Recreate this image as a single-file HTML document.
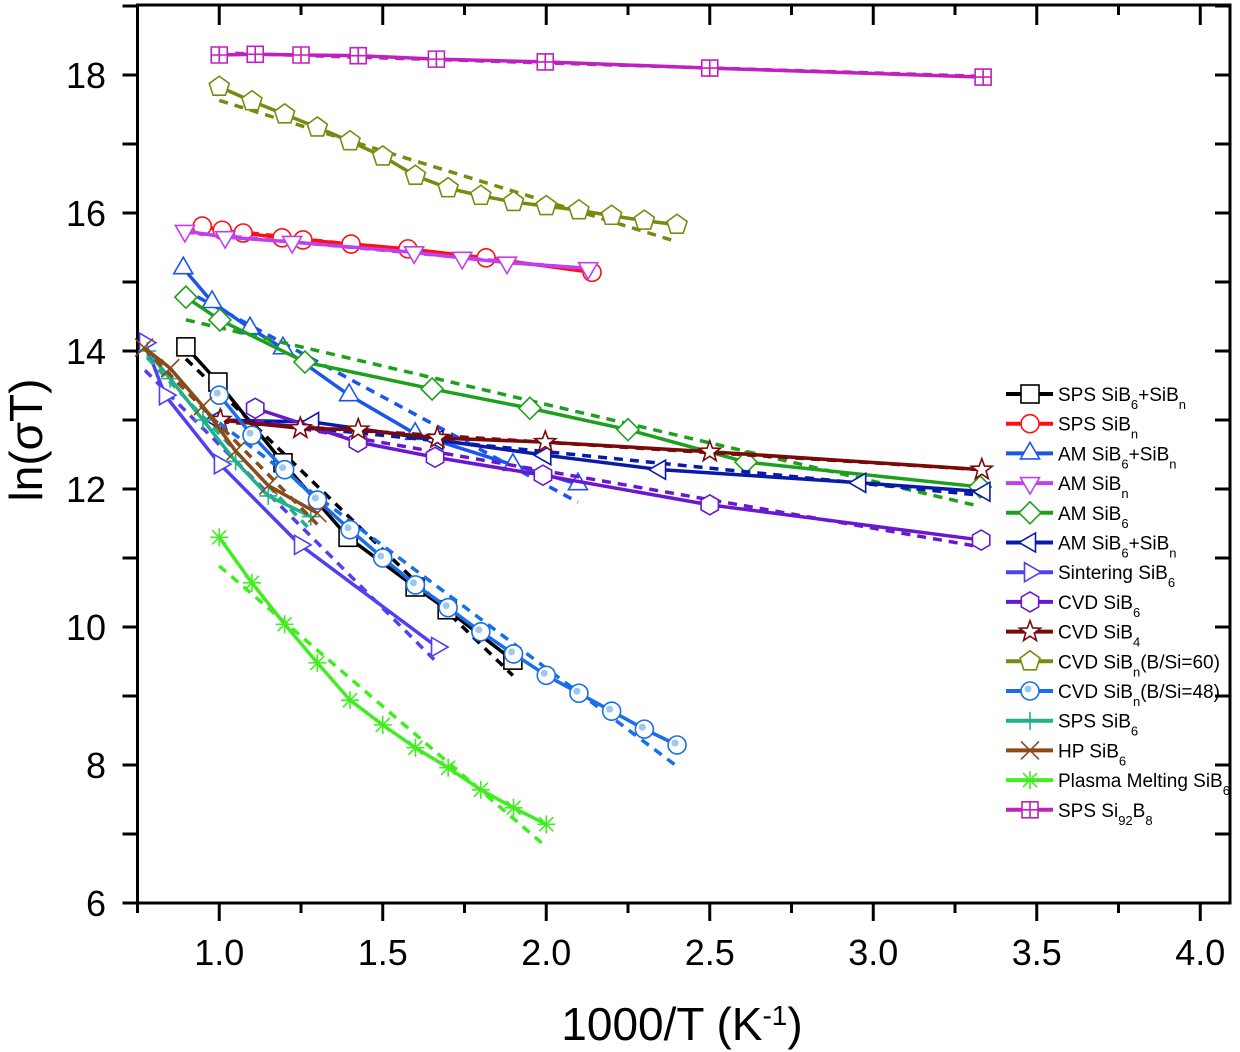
<!DOCTYPE html>
<html><head><meta charset="utf-8"><style>
body{margin:0;background:#fff;}
svg{display:block;font-family:"Liberation Sans",Arial,sans-serif;}
</style></head><body>
<svg id="chart" width="1240" height="1052" viewBox="0 0 1240 1052" xmlns="http://www.w3.org/2000/svg"></svg>
<script>
const xTicks=[1.0,1.5,2.0,2.5,3.0,3.5,4.0];
const yTicks=[6,8,10,12,14,16,18];
const seriesNames=["SPS SiB6+SiBn","SPS SiBn","AM SiB6+SiBn","AM SiBn","AM SiB6","AM SiB6+SiBn (2)","Sintering SiB6","CVD SiB6","CVD SiB4","CVD SiBn(B/Si=60)","CVD SiBn(B/Si=48)","SPS SiB6","HP SiB6","Plasma Melting SiB6","SPS Si92B8"];
const x0=[0.898,0.996,1.195,1.394,1.599,1.697,1.898];
const y0=[14.06,13.55,12.38,11.30,10.58,10.25,9.52];
const x1=[0.948,1.009,1.073,1.192,1.256,1.403,1.577,1.816,2.14];
const y1=[15.81,15.75,15.71,15.64,15.61,15.55,15.48,15.35,15.14];
const x2=[0.89,0.978,1.094,1.195,1.397,1.599,1.898,2.097];
const y2=[15.2,14.71,14.33,14.04,13.36,12.8,12.35,12.07];
const x3=[0.895,1.018,1.223,1.596,1.743,1.88,2.128];
const y3=[15.74,15.65,15.58,15.43,15.35,15.28,15.2];
const x4=[0.898,1.002,1.262,1.651,1.95,2.25,2.611,3.327];
const y4=[14.78,14.45,13.84,13.45,13.17,12.86,12.39,12.03];
const x5=[0.99,1.287,1.667,1.997,2.348,2.96,3.34];
const y5=[13.0,12.97,12.71,12.49,12.28,12.09,11.96];
const x6=[0.773,0.834,1.002,1.247,1.666];
const y6=[14.12,13.36,12.36,11.19,9.71];
const x7=[1.11,1.424,1.66,1.99,2.5,3.33];
const y7=[13.17,12.68,12.46,12.2,11.77,11.26];
const x8=[1.003,1.248,1.425,1.667,1.997,2.5,3.332];
const y8=[13.0,12.88,12.86,12.74,12.68,12.54,12.28];
const x9=[1.0,1.1,1.2,1.3,1.4,1.5,1.6,1.7,1.8,1.9,2.0,2.1,2.2,2.3,2.4];
const y9=[17.83,17.62,17.43,17.24,17.04,16.82,16.54,16.36,16.25,16.16,16.1,16.04,15.96,15.89,15.83];
const x10=[1.0,1.1,1.2,1.3,1.4,1.5,1.6,1.7,1.8,1.9,2.0,2.1,2.2,2.3,2.4];
const y10=[13.36,12.78,12.28,11.84,11.41,11.0,10.61,10.28,9.93,9.61,9.30,9.04,8.78,8.52,8.29];
const x11=[0.78,0.85,0.95,1.05,1.15,1.28];
const y11=[14.0,13.6,13.0,12.4,11.9,11.6];
const x12=[0.77,0.85,0.95,1.05,1.15,1.3];
const y12=[14.05,13.75,13.2,12.55,12.05,11.65];
const x13=[1.0,1.1,1.2,1.3,1.4,1.5,1.6,1.7,1.8,1.9,2.0];
const y13=[11.3,10.64,10.04,9.48,8.94,8.58,8.25,7.96,7.64,7.38,7.14];
const x14=[1.0,1.11,1.25,1.425,1.664,1.997,2.5,3.336];
const y14=[18.29,18.3,18.29,18.28,18.23,18.19,18.1,17.97];

const XS=[x0,x1,x2,x3,x4,x5,x6,x7,x8,x9,x10,x11,x12,x13,x14];
const YS=[y0,y1,y2,y3,y4,y5,y6,y7,y8,y9,y10,y11,y12,y13,y14];
const colors=["#000000","#ff1010","#1a55ee","#c040f0","#1ea01e","#0a1aa8","#5040f0","#6a18d0","#7a0a0a","#7a8a10","#1a6ee8","#20b08a","#8b4a1a","#40ee20","#c020c0"];
const markers=["square","circle","up","down","diamond","left","right","hex","star","pent","bubble","plus","x","ast","grid"];
const legendHTML=['SPS SiB<tspan baseline-shift="sub" font-size="13">6</tspan>+SiB<tspan baseline-shift="sub" font-size="13">n</tspan>','SPS SiB<tspan baseline-shift="sub" font-size="13">n</tspan>','AM SiB<tspan baseline-shift="sub" font-size="13">6</tspan>+SiB<tspan baseline-shift="sub" font-size="13">n</tspan>','AM SiB<tspan baseline-shift="sub" font-size="13">n</tspan>','AM SiB<tspan baseline-shift="sub" font-size="13">6</tspan>','AM SiB<tspan baseline-shift="sub" font-size="13">6</tspan>+SiB<tspan baseline-shift="sub" font-size="13">n</tspan>','Sintering SiB<tspan baseline-shift="sub" font-size="13">6</tspan>','CVD SiB<tspan baseline-shift="sub" font-size="13">6</tspan>','CVD SiB<tspan baseline-shift="sub" font-size="13">4</tspan>',' CVD SiB<tspan baseline-shift="sub" font-size="13">n</tspan>(B/Si=60)','CVD SiB<tspan baseline-shift="sub" font-size="13">n</tspan>(B/Si=48)','SPS SiB<tspan baseline-shift="sub" font-size="13">6</tspan>','HP SiB<tspan baseline-shift="sub" font-size="13">6</tspan>','Plasma Melting SiB<tspan baseline-shift="sub" font-size="13">6</tspan>','SPS Si<tspan baseline-shift="sub" font-size="13">92</tspan>B<tspan baseline-shift="sub" font-size="13">8</tspan>'];

const L=137.5,R=1230,T=5,B=903;
const sx=v=>L+(v-0.75)*327;
const sy=v=>75+(18-v)*69;
const svg=document.getElementById('chart');
const NS="http://www.w3.org/2000/svg";
function mk(tag,attrs,parent){const e=document.createElementNS(NS,tag);for(const k in attrs)e.setAttribute(k,attrs[k]);(parent||svg).appendChild(e);return e;}

function marker(type,x,y,c,g){
  const s=9;let e;
  const poly=(pts)=>mk('polygon',{points:pts.map(p=>p.join(',')).join(' '),fill:'#fff',stroke:c,'stroke-width':1.6},g);
  const reg=(n,r,rot)=>{const p=[];for(let i=0;i<n;i++){const a=rot+i*2*Math.PI/n;p.push([x+r*Math.cos(a),y+r*Math.sin(a)]);}return p;};
  switch(type){
    case 'square':e=mk('rect',{x:x-s,y:y-s,width:2*s,height:2*s,fill:'#fff',stroke:c,'stroke-width':1.6},g);break;
    case 'circle':e=mk('circle',{cx:x,cy:y,r:s,fill:'#fff',stroke:c,'stroke-width':1.6},g);break;
    case 'up':e=poly(reg(3,11,-Math.PI/2));break;
    case 'down':e=poly(reg(3,11,Math.PI/2));break;
    case 'left':e=poly(reg(3,11,Math.PI));break;
    case 'right':e=poly(reg(3,11,0));break;
    case 'diamond':e=poly(reg(4,11,0));break;
    case 'hex':e=poly(reg(6,10,-Math.PI/2));break;
    case 'pent':e=poly(reg(5,10.5,-Math.PI/2));break;
    case 'star':{const p=[];for(let i=0;i<10;i++){const r=i%2?4.5:11;const a=-Math.PI/2+i*Math.PI/5;p.push([x+r*Math.cos(a),y+r*Math.sin(a)]);}e=poly(p);break;}
    case 'bubble':e=mk('circle',{cx:x,cy:y,r:s,fill:'#fff',stroke:c,'stroke-width':1.6},g);mk('circle',{cx:x-2,cy:y-2,r:3.5,fill:'#9cc8f0'},g);break;
    case 'plus':e=mk('path',{d:`M${x-s} ${y}H${x+s}M${x} ${y-s}V${y+s}`,stroke:c,'stroke-width':1.6},g);break;
    case 'x':e=mk('path',{d:`M${x-s} ${y-s}L${x+s} ${y+s}M${x+s} ${y-s}L${x-s} ${y+s}`,stroke:c,'stroke-width':1.6},g);break;
    case 'ast':e=mk('path',{d:`M${x-s} ${y}H${x+s}M${x} ${y-s}V${y+s}M${x-7} ${y-7}L${x+7} ${y+7}M${x+7} ${y-7}L${x-7} ${y+7}`,stroke:c,'stroke-width':1.6},g);break;
    case 'grid':{const q=8;e=mk('path',{d:`M${x-q} ${y-q}h${2*q}v${2*q}h${-2*q}zM${x} ${y-q}V${y+q}M${x-q} ${y}H${x+q}`,fill:'#fff',stroke:c,'stroke-width':1.6},g);break;}
  }
  return e;
}

const frame=mk('rect',{x:L,y:T,width:R-L,height:B-T,fill:'none',stroke:'#000','stroke-width':3});



for(let v=0.75;v<=4.01;v+=0.25){
  const major=xTicks.some(t=>Math.abs(t-v)<1e-6);
  const t=mk('line',{x1:sx(v),x2:sx(v),y1:B,y2:B+(major?18:10),stroke:'#000','stroke-width':3});
  
  
  mk('line',{x1:sx(v),x2:sx(v),y1:T,y2:T+(major?20:10),stroke:'#000','stroke-width':3});
}
xTicks.forEach(v=>{
  const t=mk('text',{x:sx(v),y:965,'text-anchor':'middle','font-size':36});
  t.textContent=v.toFixed(1);
  
  
});
for(let v=6;v<=19;v+=1){
  const t=mk('line',{x1:L-15,x2:L,y1:sy(v),y2:sy(v),stroke:'#000','stroke-width':3});
  
  
  mk('line',{x1:R-15,x2:R,y1:sy(v),y2:sy(v),stroke:'#000','stroke-width':3});
}
yTicks.forEach(v=>{
  const t=mk('text',{x:106,y:sy(v)+13,'text-anchor':'end','font-size':36});
  t.textContent=v;
  
  
});
const xt=mk('text',{x:682,y:1040,'text-anchor':'middle','font-size':46});
xt.innerHTML='1000/T (K<tspan baseline-shift="super" font-size="28">-1</tspan>)';


const yt=mk('text',{x:0,y:0,'text-anchor':'middle','font-size':46,transform:'translate(42,440) rotate(-90)'});
yt.textContent='ln(σT)';



XS.forEach((xs,i)=>{
  const ys=YS[i],c=colors[i];
  const g=mk('g',{});
  
  
  const n=xs.length;let mx=0,my=0;xs.forEach((v,k)=>{mx+=v;my+=ys[k];});mx/=n;my/=n;
  let sxy=0,sxx=0;xs.forEach((v,k)=>{sxy+=(v-mx)*(ys[k]-my);sxx+=(v-mx)*(v-mx);});
  const b=sxy/sxx,a=my-b*mx;
  const fa=xs[0],fb=xs[n-1];
  const fit=mk('line',{x1:sx(fa),y1:sy(a+b*fa),x2:sx(fb),y2:sy(a+b*fb),stroke:c,'stroke-width':3.5,'stroke-dasharray':'9,7'},g);
  
  
  const pl=mk('polyline',{points:xs.map((v,k)=>sx(v)+','+sy(ys[k])).join(' '),fill:'none',stroke:c,'stroke-width':3.5,'stroke-linejoin':'round'},g);
  
  
  xs.forEach((v,k)=>{
    const m=marker(markers[i],sx(v),sy(ys[k]),c,g);
    
    
  });
});

const lg=mk('g',{});


seriesNames.forEach((nm,i)=>{
  const y=394+i*29.7;
  const e=mk('g',{},lg);
  
  
  mk('line',{x1:1006,x2:1053,y1:y,y2:y,stroke:colors[i],'stroke-width':4},e);
  marker(markers[i],1030,y,colors[i],e);
  const t=mk('text',{x:1058,y:y+7,'font-size':19},e);
  t.innerHTML=legendHTML[i];
});
</script>
</body></html>
